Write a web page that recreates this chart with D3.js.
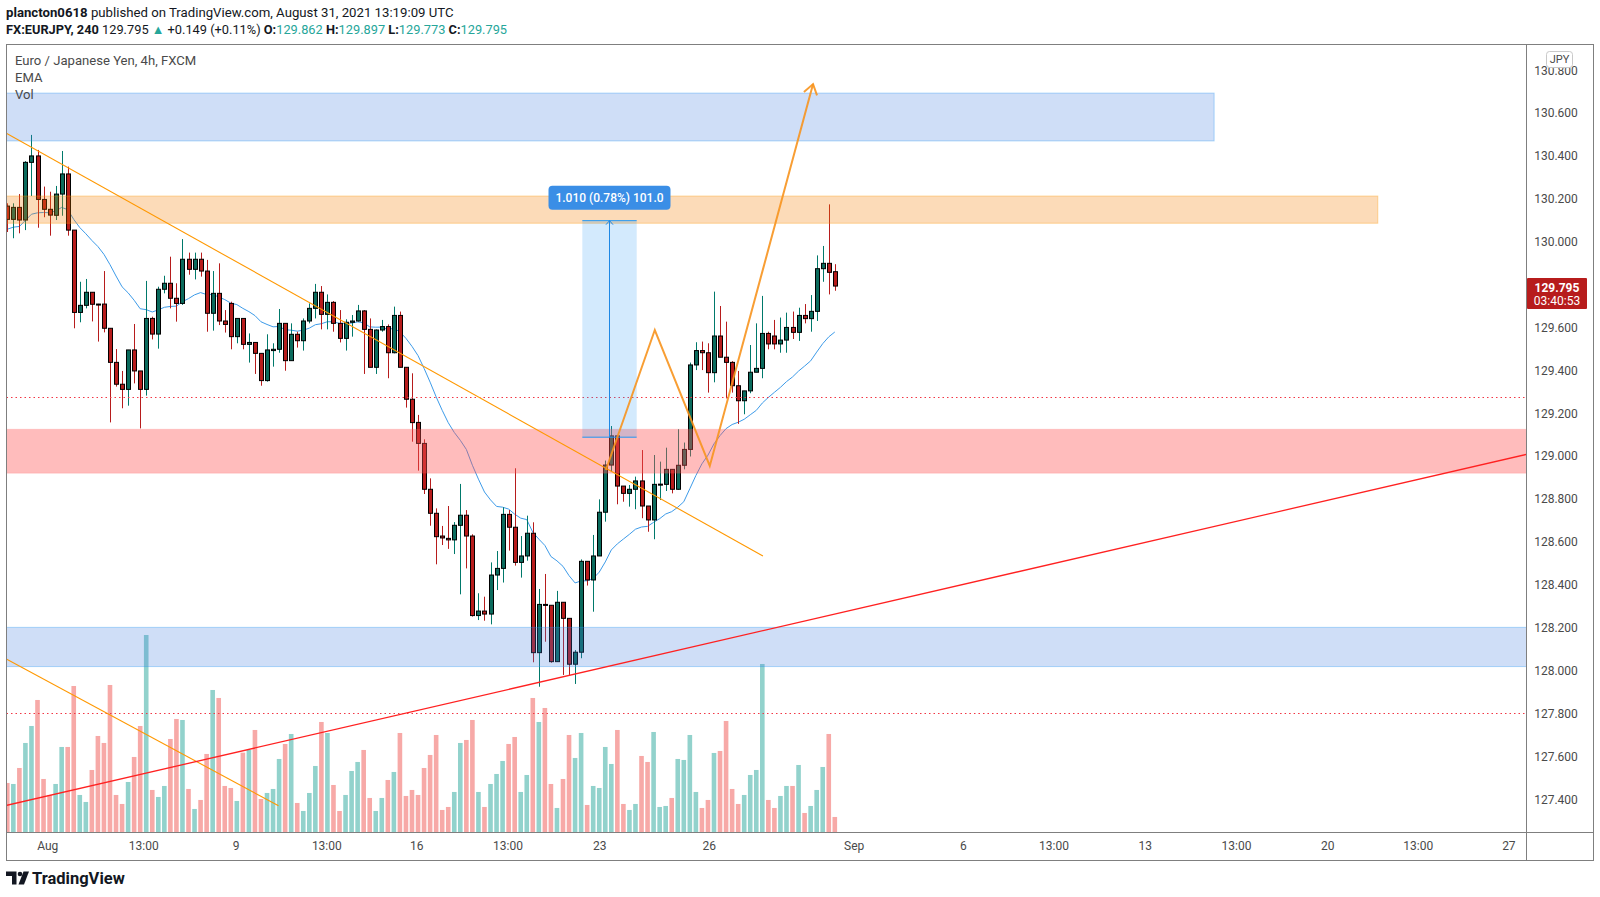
<!DOCTYPE html>
<html>
<head>
<meta charset="utf-8">
<script src="https://cdnjs.cloudflare.com/ajax/libs/d3/7.8.5/d3.min.js"></script>
<style>
  body { margin: 0; background: #fff; }
  svg text { font-family: Roboto, "Liberation Sans", sans-serif; }
</style>
</head>
<body>
<svg width="1600" height="897"></svg>
<script>
// EURJPY 4h candles
const opens = [
  130.168,130.106,130.162,130.103,130.372,130.402,130.199,130.153,130.125,130.224,
  130.318,130.056,129.672,129.705,129.766,129.711,129.711,129.598,129.439,129.337,
  129.313,129.497,129.399,129.313,129.644,129.571,129.780,129.808,129.738,129.714,
  129.920,129.873,129.920,129.865,129.668,129.761,129.632,129.714,129.559,129.644,
  129.523,129.532,129.481,129.354,129.494,129.500,129.621,129.447,129.570,129.540,
  129.632,129.691,129.766,129.663,129.719,129.621,129.551,129.626,129.632,129.679,
  129.593,129.416,129.590,129.606,129.484,129.658,129.416,129.267,129.159,129.061,
  128.847,128.735,128.629,128.618,128.611,128.679,128.726,128.629,128.258,128.279,
  128.265,128.447,128.478,128.730,128.670,128.506,128.536,128.642,128.085,128.310,
  128.306,128.043,128.320,128.245,128.031,128.087,128.511,128.424,128.536,128.740,
  128.960,129.096,128.862,128.828,128.847,128.886,128.769,128.704,128.870,128.870,
  128.940,128.847,128.959,129.033,129.427,129.494,129.484,129.391,129.562,129.463,
  129.439,129.330,129.260,129.306,129.393,129.411,129.574,129.562,129.525,129.543,
  129.602,129.579,129.658,129.643,129.677,129.876,129.901,129.862
];
const highs = [
  130.181,130.181,130.224,130.378,130.500,130.430,130.259,130.235,130.262,130.425,
  130.352,130.056,129.815,129.828,129.766,129.712,129.865,129.598,129.501,129.399,
  129.497,129.618,129.399,129.819,129.652,129.792,129.843,129.932,129.808,130.014,
  129.951,129.951,129.951,129.917,129.865,129.901,129.683,129.722,129.644,129.644,
  129.574,129.532,129.481,129.570,129.528,129.688,129.621,129.621,129.582,129.644,
  129.714,129.805,129.795,129.756,129.725,129.683,129.640,129.660,129.707,129.683,
  129.644,129.593,129.637,129.616,129.699,129.676,129.416,129.388,129.194,129.080,
  128.898,128.758,128.676,128.769,128.694,128.872,128.750,128.637,128.362,128.346,
  128.506,128.559,128.763,128.750,128.945,128.629,128.724,128.693,128.382,128.452,
  128.306,128.373,128.320,128.245,128.097,128.520,128.511,128.634,128.800,128.981,
  129.142,129.096,128.862,128.867,128.906,129.030,128.769,129.007,128.976,129.041,
  128.940,129.127,129.065,129.438,129.533,129.536,129.528,129.769,129.702,129.629,
  129.445,129.399,129.306,129.520,129.621,129.749,129.582,129.637,129.648,129.671,
  129.676,129.694,129.711,129.753,129.938,129.982,130.176,129.897
];
const lows = [
  130.047,130.018,130.041,130.056,130.215,130.067,130.116,130.030,130.103,130.123,
  130.030,129.598,129.626,129.691,129.630,129.536,129.579,129.159,129.326,129.225,
  129.237,129.341,129.131,129.284,129.546,129.503,129.761,129.691,129.629,129.707,
  129.848,129.826,129.839,129.582,129.587,129.613,129.578,129.500,129.528,129.500,
  129.438,129.385,129.330,129.349,129.419,129.484,129.400,129.447,129.508,129.494,
  129.621,129.644,129.593,129.593,129.582,129.532,129.494,129.559,129.629,129.385,
  129.416,129.385,129.582,129.365,129.481,129.416,129.228,129.069,128.934,128.825,
  128.677,128.497,128.587,128.569,128.545,128.357,128.478,128.253,128.237,128.234,
  128.217,128.377,128.412,128.561,128.491,128.435,128.514,128.040,127.926,128.136,
  128.038,128.043,127.981,127.981,127.939,128.059,128.398,128.276,128.536,128.696,
  128.929,128.777,128.789,128.766,128.754,128.712,128.649,128.614,128.797,128.839,
  128.828,128.844,128.940,129.000,129.403,129.403,129.298,129.346,129.463,129.271,
  129.298,129.152,129.197,129.295,129.393,129.365,129.500,129.500,129.484,129.484,
  129.548,129.539,129.621,129.582,129.632,129.815,129.756,129.773
];
const closes = [
  130.106,130.162,130.103,130.372,130.402,130.199,130.153,130.126,130.224,130.318,
  130.056,129.672,129.705,129.766,129.710,129.710,129.598,129.439,129.337,129.313,
  129.497,129.399,129.313,129.644,129.571,129.780,129.808,129.738,129.714,129.920,
  129.873,129.920,129.865,129.668,129.761,129.632,129.616,129.559,129.644,129.523,
  129.532,129.481,129.354,129.497,129.500,129.621,129.447,129.570,129.540,129.632,
  129.691,129.766,129.663,129.719,129.621,129.551,129.626,129.632,129.679,129.593,
  129.416,129.590,129.606,129.484,129.658,129.416,129.267,129.158,129.061,128.847,
  128.735,128.626,128.620,128.611,128.679,128.726,128.629,128.258,128.279,128.265,
  128.447,128.478,128.730,128.670,128.506,128.536,128.642,128.085,128.310,128.306,
  128.043,128.320,128.245,128.031,128.087,128.511,128.424,128.536,128.740,128.960,
  129.096,128.862,128.828,128.847,128.886,128.769,128.704,128.870,128.871,128.940,
  128.847,128.959,129.033,129.427,129.494,129.484,129.391,129.562,129.463,129.439,
  129.330,129.260,129.306,129.393,129.411,129.574,129.525,129.525,129.543,129.602,
  129.579,129.658,129.643,129.677,129.876,129.901,129.859,129.795
];
const volumes = [
  148,145,193,268,319,397,160,112,145,256,
  256,439,112,91,187,289,268,442,112,85,
  151,226,319,592,127,106,139,280,340,337,
  130,70,97,235,427,403,139,133,94,239,
  247,307,100,118,130,220,265,295,88,64,
  118,199,331,298,142,64,112,184,211,247,
  103,64,103,157,181,298,109,127,112,193,
  232,292,67,76,121,268,277,337,121,76,
  145,175,214,265,286,121,172,403,331,373,
  145,73,160,292,223,298,82,139,133,256,
  205,307,85,67,85,229,211,301,76,79,
  103,220,217,292,121,73,97,238,244,334,
  130,85,112,172,187,505,97,73,109,139,
  139,202,58,79,127,196,295,46
];

const emaLength = 20;
const emaStart = 130.06;

const priceTicks = [127.4,127.6,127.8,128.0,128.2,128.4,128.6,128.8,129.0,129.2,129.4,129.6,129.8,130.0,130.2,130.4,130.6,130.8];
const timeLabels = ["Aug","13:00","9","13:00","16","13:00","23","26","Sep","6","13:00","13","13:00","20","13:00","27"];
const timeLabelBars = [6.7,22.6,37.9,52.9,67.8,82.9,98.1,116.2,140.2,158.3,173.3,188.4,203.5,218.6,233.6,248.6];

// drawings (bar index / price)
const zoneTops    = [130.695, 130.215, 129.127, 128.203];
const zoneBottoms = [130.472, 130.088, 128.922, 128.020];
const zoneEnds    = [199.8, 226.9, null, null];
const zoneFills   = ["rgba(63,123,223,0.25)", "rgba(245,124,0,0.28)", "rgba(255,82,82,0.39)", "rgba(63,123,223,0.25)"];
const zoneEdges   = ["rgba(33,150,243,0.35)", "rgba(255,152,0,0.35)", "rgba(255,82,82,0.15)", "rgba(33,150,243,0.35)"];

const trendBars   = [[-0.1, 125.1], [-0.1, 44.9], [-0.1, 68.3]];
const trendPrices = [[130.507, 128.536], [128.054, 127.371], [127.373, 127.818]];
const trendColors = ["#ff9800", "#ff9800", "#ff2121"];
const trendExtend = [false, false, true];

const zigzagBars   = [99.1, 107.2, 116.3, 133.4];
const zigzagPrices = [128.937, 129.590, 128.956, 130.737];

const measureBars   = [95.2, 104.2];
const measurePrices = [129.090, 130.100];
const measureLabel  = "1.010 (0.78%) 101.0";

const dottedPrices = [129.276, 127.802];

const svg = d3.select("svg");
const plotL = 6.5, plotT = 44.5, plotR = 1526.5, plotB = 832.5, outerR = 1593.5, axisB = 860.5;

const x = d3.scaleLinear().domain([0, opens.length - 1]).range([7.3, 834.8]);
const y = d3.scaleLinear().domain([127.4, 130.8]).range([799.5, 70.6]);
const yVol = d3.scaleLinear().domain([0, d3.max(volumes)]).range([832.3, 635]);

const bars = opens.map((o, i) => ({
  i, o, h: highs[i], l: lows[i], c: closes[i], v: volumes[i], up: closes[i] >= o
}));

// ema
const ema = [];
closes.forEach((c, i) => {
  const a = 2 / (emaLength + 1);
  ema.push(i === 0 ? emaStart : ema[i - 1] + a * (c - ema[i - 1]));
});

svg.append("defs").append("clipPath").attr("id", "plotClip")
  .append("rect").attr("x", 7).attr("y", 45).attr("width", plotR - 7.5).attr("height", plotB - 45.5);

const g = svg.append("g").attr("clip-path", "url(#plotClip)");

// volume
g.selectAll(".vol").data(bars).enter().append("rect")
  .attr("x", d => x(d.i) - 2.3)
  .attr("width", 4.6)
  .attr("y", d => yVol(d.v))
  .attr("height", d => yVol(0) - yVol(d.v))
  .attr("fill", d => d.up ? "rgba(38,166,154,0.5)" : "rgba(239,83,80,0.5)");

// ema
g.append("path")
  .attr("d", d3.line().x((d, i) => x(i)).y(d => y(d))(ema))
  .attr("fill", "none")
  .attr("stroke", "#3d9be9")
  .attr("stroke-width", 1);

// candles
const cx = d => Math.round(x(d.i)) + 0.5;
g.selectAll(".wick").data(bars).enter().append("line")
  .attr("x1", cx).attr("x2", cx)
  .attr("y1", d => y(d.h)).attr("y2", d => y(d.l))
  .attr("stroke", d => d.up ? "#00796b" : "#b71c1c")
  .attr("stroke-width", 1);

g.selectAll(".body").data(bars).enter().append("rect")
  .attr("x", d => cx(d) - 2)
  .attr("width", 4)
  .attr("y", d => y(Math.max(d.o, d.c)))
  .attr("height", d => Math.max(1, y(Math.min(d.o, d.c)) - y(Math.max(d.o, d.c))))
  .attr("fill", d => d.up ? "#0b6b5d" : "#b71c1c")
  .attr("stroke", "#000")
  .attr("stroke-width", 1);

// zones
zoneTops.forEach((top, i) => {
  const x0 = plotL, x1 = zoneEnds[i] === null ? plotR : x(zoneEnds[i]);
  g.append("rect")
    .attr("x", x0).attr("width", x1 - x0)
    .attr("y", y(top)).attr("height", y(zoneBottoms[i]) - y(top))
    .attr("fill", zoneFills[i])
    .attr("stroke", zoneEdges[i]);
});

// dotted horizontals
dottedPrices.forEach(p => {
  g.append("line")
    .attr("x1", plotL).attr("x2", plotR)
    .attr("y1", Math.round(y(p)) + 0.5).attr("y2", Math.round(y(p)) + 0.5)
    .attr("stroke", "#f23645")
    .attr("stroke-width", 1)
    .attr("stroke-dasharray", "1.5,3");
});

// trend lines
trendBars.forEach((b, i) => {
  let x2 = x(b[1]), y2 = y(trendPrices[i][1]);
  if (trendExtend[i]) {
    const slope = (y2 - y(trendPrices[i][0])) / (x2 - x(b[0]));
    y2 = y2 + slope * (plotR - x2);
    x2 = plotR;
  }
  g.append("line")
    .attr("x1", x(b[0])).attr("y1", y(trendPrices[i][0]))
    .attr("x2", x2).attr("y2", y2)
    .attr("stroke", trendColors[i])
    .attr("stroke-width", i === 2 ? 1.3 : 1.1);
});

// measure box
const mx0 = x(measureBars[0]), mx1 = x(measureBars[1]);
const my0 = y(measurePrices[1]), my1 = y(measurePrices[0]);
const mxc = (mx0 + mx1) / 2;
g.append("rect")
  .attr("x", mx0).attr("y", my0).attr("width", mx1 - mx0).attr("height", my1 - my0)
  .attr("fill", "rgba(33,150,243,0.2)");
[my0, my1].forEach(yy => {
  g.append("line").attr("x1", mx0).attr("x2", mx1).attr("y1", yy).attr("y2", yy)
    .attr("stroke", "#2196f3").attr("stroke-width", 1);
});
g.append("line").attr("x1", mxc).attr("x2", mxc).attr("y1", my1).attr("y2", my0)
  .attr("stroke", "#1e88e5").attr("stroke-width", 1);
g.append("path")
  .attr("d", `M${mxc - 3.5},${my0 + 4} L${mxc},${my0} L${mxc + 3.5},${my0 + 4}`)
  .attr("fill", "none").attr("stroke", "#1e88e5").attr("stroke-width", 1);
g.append("rect")
  .attr("x", mxc - 61).attr("y", my0 - 35).attr("width", 122).attr("height", 24).attr("rx", 4)
  .attr("fill", "#3a8ee6");
g.append("text")
  .attr("x", mxc).attr("y", my0 - 23)
  .attr("text-anchor", "middle").attr("dominant-baseline", "central")
  .attr("fill", "#fff").attr("font-size", 12).attr("font-weight", 500)
  .text(measureLabel);

// zigzag with arrow
const zz = zigzagBars.map((b, i) => [x(b), y(zigzagPrices[i])]);
g.append("path")
  .attr("d", d3.line()(zz))
  .attr("fill", "none").attr("stroke", "#f7931e").attr("stroke-width", 2)
  .attr("stroke-opacity", 0.9).attr("stroke-linejoin", "miter");
const tip = zz[zz.length - 1], prev = zz[zz.length - 2];
const ang = Math.atan2(tip[1] - prev[1], tip[0] - prev[0]);
const head = [ang + Math.PI - 0.6, ang + Math.PI + 0.6].map(a => [tip[0] + 12 * Math.cos(a), tip[1] + 12 * Math.sin(a)]);
g.append("path")
  .attr("d", `M${head[0][0]},${head[0][1]} L${tip[0]},${tip[1]} L${head[1][0]},${head[1][1]}`)
  .attr("fill", "none").attr("stroke", "#f7931e").attr("stroke-width", 2).attr("stroke-opacity", 0.9);

// frame
const frame = svg.append("g").attr("stroke", "#7f7f7f").attr("stroke-width", 1).attr("fill", "none");
frame.append("rect").attr("x", plotL).attr("y", plotT).attr("width", outerR - plotL).attr("height", axisB - plotT);
frame.append("line").attr("x1", plotR).attr("x2", plotR).attr("y1", plotT).attr("y2", axisB);
frame.append("line").attr("x1", plotL).attr("x2", outerR).attr("y1", plotB).attr("y2", plotB);

// price axis
svg.append("g").selectAll("text").data(priceTicks).enter().append("text")
  .attr("x", 1556).attr("y", d => y(d))
  .attr("text-anchor", "middle").attr("dominant-baseline", "central")
  .attr("font-size", 12).attr("fill", "#4a4a4a")
  .text(d3.format(".3f"));

// JPY badge
svg.append("rect").attr("x", 1546.5).attr("y", 51.5).attr("width", 26).attr("height", 16).attr("rx", 3)
  .attr("fill", "#fff").attr("stroke", "#c9c9c9");
svg.append("text").attr("x", 1559.5).attr("y", 59.5).attr("text-anchor", "middle").attr("dominant-baseline", "central")
  .attr("font-size", 11).attr("fill", "#4a4a4a").text("JPY");

// last price label
const lastY = y(closes[closes.length - 1]);
svg.append("rect").attr("x", 1527).attr("y", lastY - 8).attr("width", 60).attr("height", 31).attr("rx", 1)
  .attr("fill", "#b71c1c");
svg.append("text").attr("x", 1557).attr("y", lastY + 1.5).attr("text-anchor", "middle").attr("dominant-baseline", "central")
  .attr("font-size", 12).attr("font-weight", "bold").attr("fill", "#fff")
  .text(d3.format(".3f")(closes[closes.length - 1]));
svg.append("text").attr("x", 1557).attr("y", lastY + 14.5).attr("text-anchor", "middle").attr("dominant-baseline", "central")
  .attr("font-size", 12).attr("fill", "#fff").text("03:40:53");

// time axis
svg.append("g").selectAll("text").data(timeLabels).enter().append("text")
  .attr("x", (d, i) => x(timeLabelBars[i])).attr("y", 846)
  .attr("text-anchor", "middle").attr("dominant-baseline", "central")
  .attr("font-size", 12).attr("fill", "#4a4a4a")
  .text(d => d);

// header
const h1 = svg.append("text").attr("x", 6).attr("y", 17).attr("font-size", 13.2).attr("fill", "#131722");
h1.append("tspan").attr("font-weight", "bold").text("plancton0618");
h1.append("tspan").text(" published on TradingView.com, August 31, 2021 13:19:09 UTC");

const teal = "#26a69a";
const h2 = svg.append("text").attr("x", 6).attr("y", 34).attr("font-size", 12.8).attr("fill", "#131722");
[
  ["FX:EURJPY, 240 ", "bold", null],
  ["129.795 ", null, null],
  ["▲", null, teal],
  [" +0.149 (+0.11%) ", null, null],
  ["O:", "bold", null], ["129.862", null, teal],
  [" H:", "bold", null], ["129.897", null, teal],
  [" L:", "bold", null], ["129.773", null, teal],
  [" C:", "bold", null], ["129.795", null, teal]
].forEach(([t, w, c]) => {
  const s = h2.append("tspan").text(t);
  if (w) s.attr("font-weight", w);
  if (c) s.attr("fill", c);
});

// legend
["Euro / Japanese Yen, 4h, FXCM", "EMA", "Vol"].forEach((t, i) => {
  svg.append("text").attr("x", 15).attr("y", 60.5 + i * 16.8).attr("dominant-baseline", "central")
    .attr("font-size", 13.1).attr("fill", "#4a4a4a").text(t);
});

// TradingView logo
const logo = svg.append("g").attr("fill", "#131722");
logo.append("path").attr("d", "M6,871.5 h10.5 v13 h-4.5 v-8.5 h-6 z");
logo.append("circle").attr("cx", 20).attr("cy", 874).attr("r", 2.3);
logo.append("path").attr("d", "M23.5,871.5 h5.5 l-5,13 h-5.5 z");
svg.append("text").attr("x", 32).attr("y", 884).attr("font-size", 16.5).attr("font-weight", "bold")
  .attr("fill", "#131722").text("TradingView");
</script>
</body>
</html>
